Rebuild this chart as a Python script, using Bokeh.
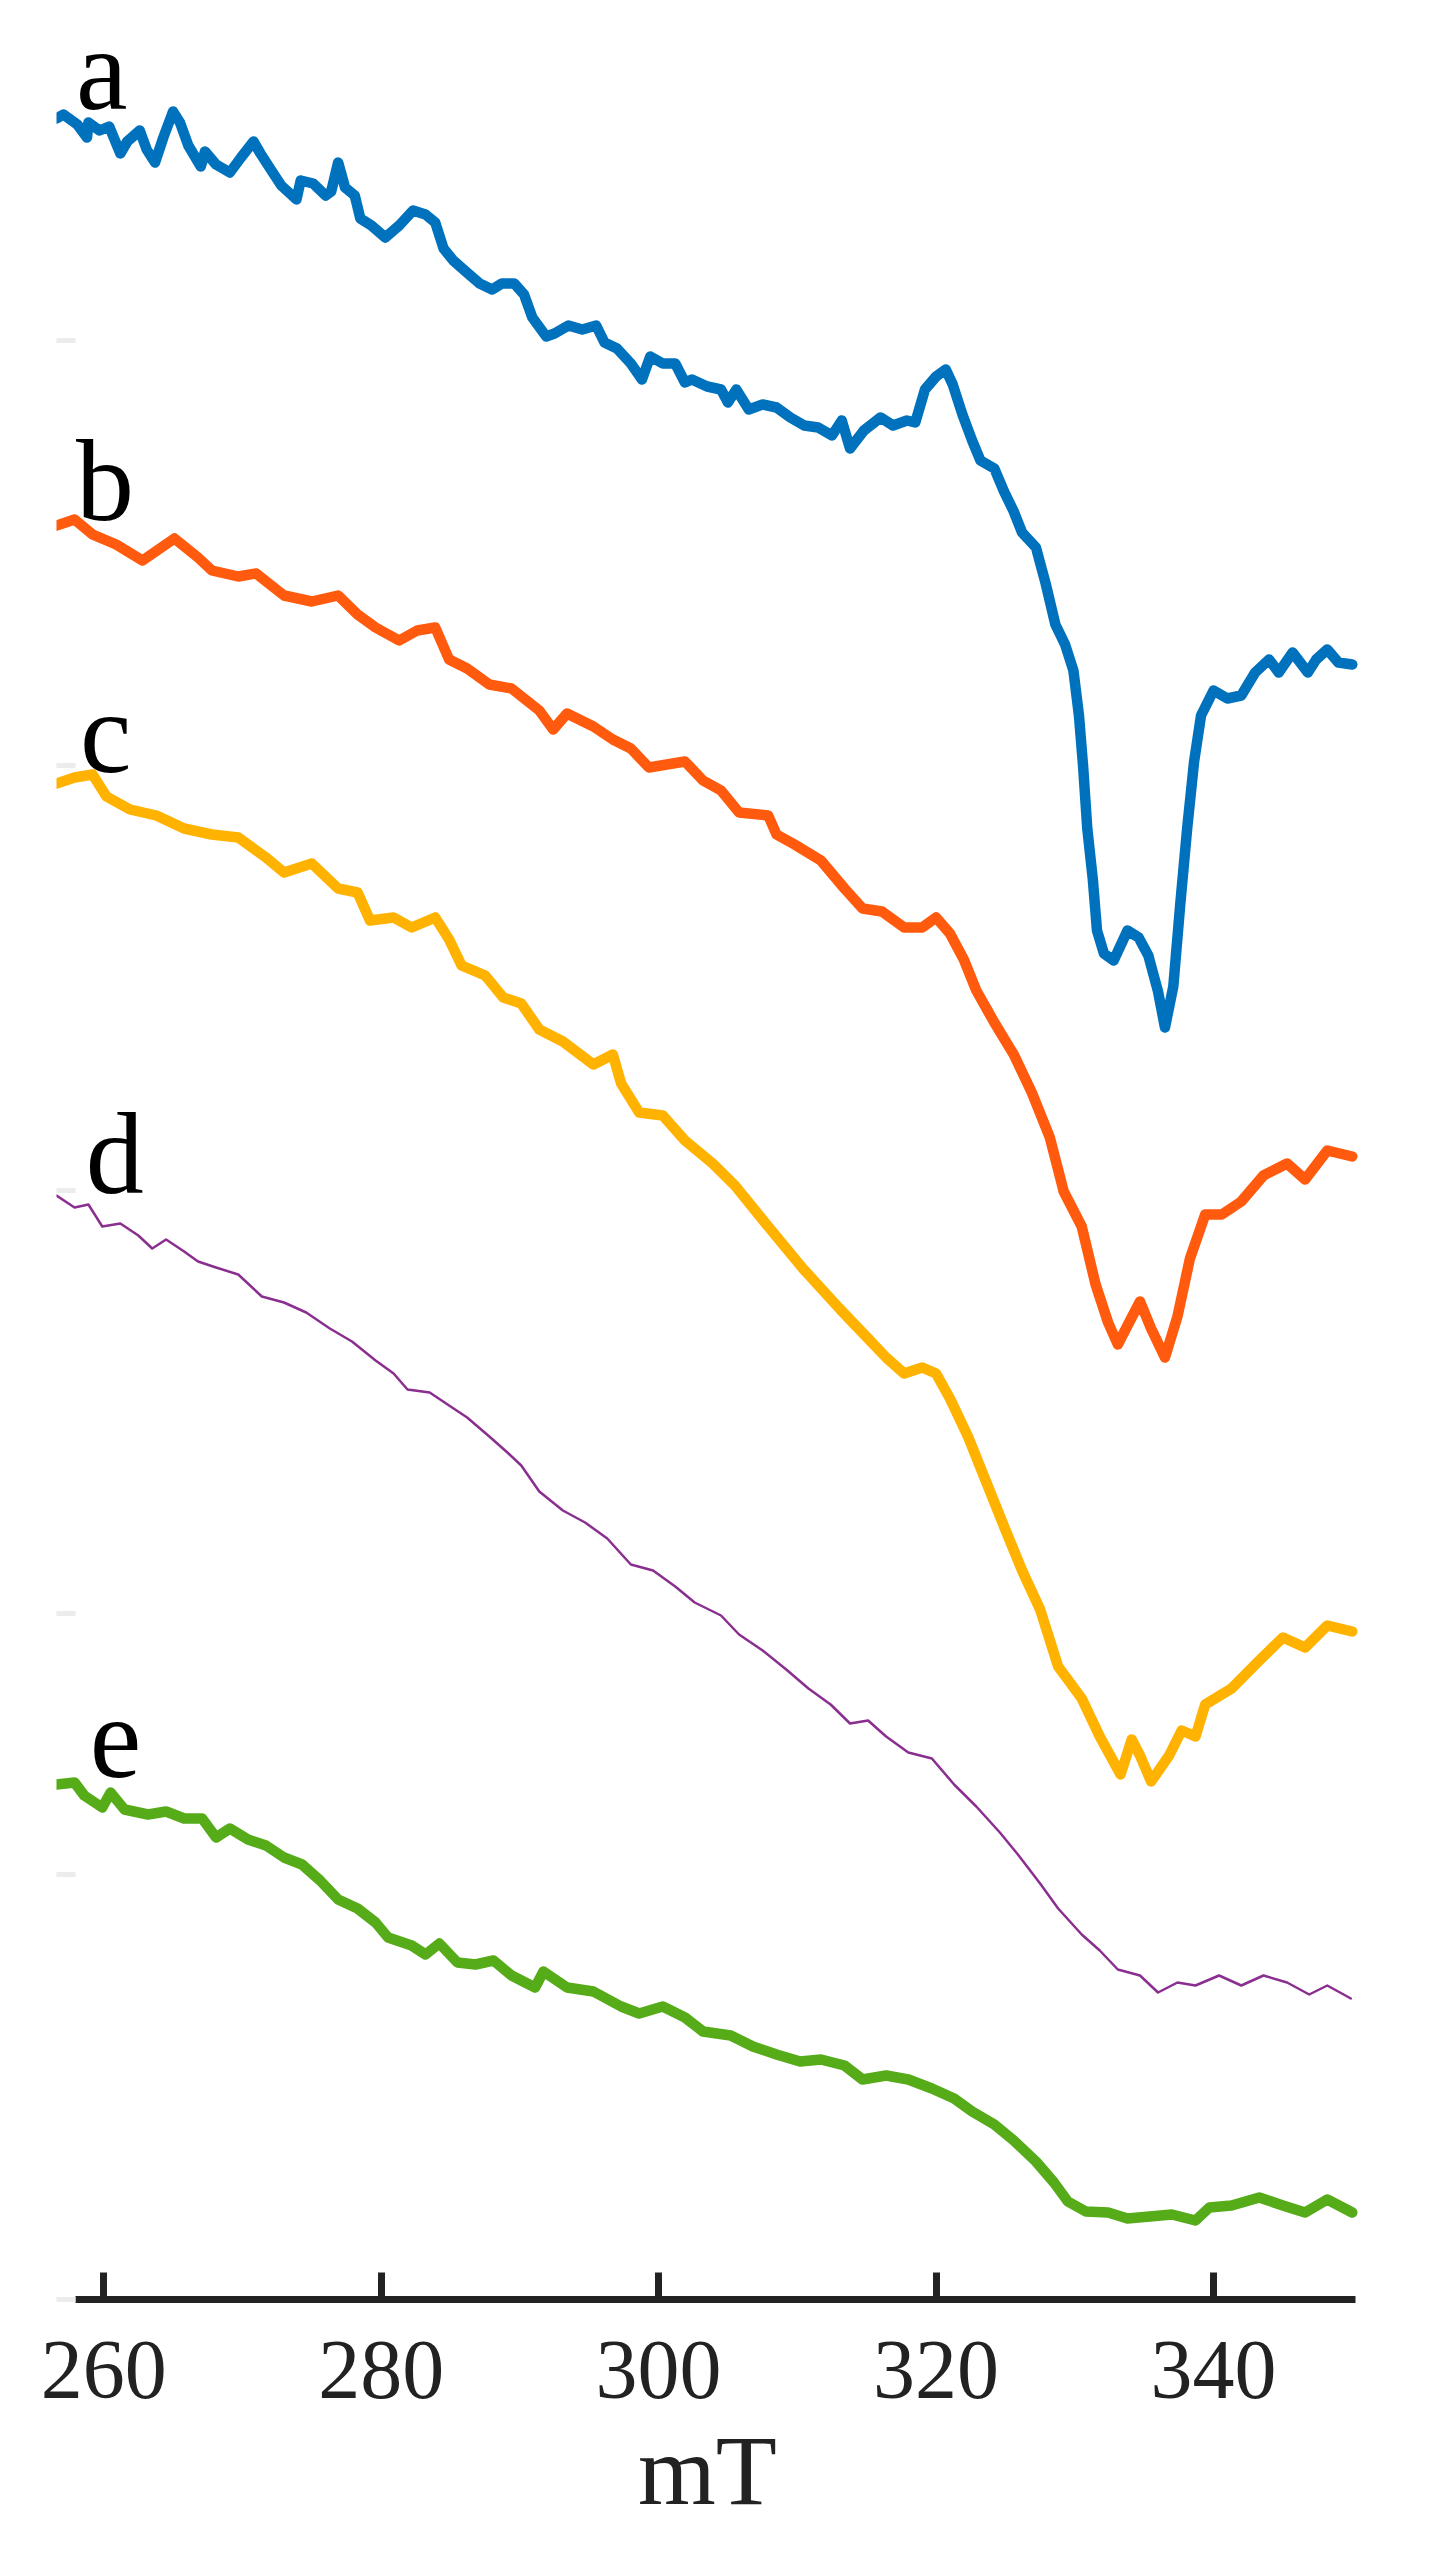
from bokeh.plotting import figure
from bokeh.models import Range1d, FixedTicker, LinearAxis
from bokeh.embed import file_html
from bokeh.resources import INLINE
from bokeh.core.properties import value

# ---------------- data (field in mT, intensity in a.u., spectra stacked) ----------------
a_x = [256.6, 257.1, 258.1, 258.8, 258.9, 259.7, 260.4, 261.2, 261.7, 262.6, 263.1, 263.7, 264.3, 265.0,
       265.5, 266.1, 267.0, 267.3, 268.1, 269.1, 269.9, 270.8, 271.3, 272.0, 272.8, 273.9, 274.2, 275.1,
       276.0, 276.4, 276.9, 277.4, 278.1, 278.5, 279.3, 280.3, 281.3, 282.3, 283.2, 283.9, 284.5, 285.2,
       286.1, 287.1, 288.0, 288.7, 289.6, 290.3, 290.9, 291.9, 292.5, 293.5, 294.5, 295.5, 296.1, 297.0,
       298.0, 298.8, 299.4, 300.3, 301.2, 301.9, 302.4, 303.5, 304.5, 305.0, 305.6, 306.5, 307.5, 308.5,
       309.5, 310.5, 311.5, 312.5, 313.2, 313.8, 314.8, 316.0, 316.9, 317.9, 318.5, 319.2, 320.0, 320.7,
       321.2, 321.9, 322.6, 323.2, 324.2, 324.9, 325.6, 326.2, 327.2, 327.9, 328.6, 329.3, 329.9, 330.3,
       330.6, 330.9, 331.3, 331.6, 332.1, 332.8, 333.8, 334.6, 335.3, 336.0, 336.5, 337.1, 337.6, 338.1,
       338.6, 339.1, 340.0, 341.0, 342.0, 343.0, 344.0, 344.7, 345.7, 346.8, 347.4, 348.2, 349.0, 350.0]
a_y = [2181, 2185, 2175, 2162, 2177, 2169, 2173, 2146, 2158, 2169, 2150, 2137, 2162, 2188,
       2177, 2154, 2133, 2148, 2135, 2127, 2142, 2158, 2146, 2131, 2114, 2100, 2119, 2116,
       2104, 2108, 2137, 2112, 2104, 2081, 2074, 2062, 2074, 2089, 2085, 2077, 2051, 2039,
       2028, 2016, 2010, 2016, 2016, 2005, 1982, 1963, 1966, 1974, 1970, 1974, 1957, 1951,
       1936, 1920, 1943, 1936, 1936, 1917, 1920, 1913, 1910, 1897, 1910, 1890, 1895, 1892,
       1882, 1874, 1872, 1864, 1879, 1851, 1869, 1882, 1874, 1879, 1877, 1910, 1923, 1930,
       1915, 1885, 1859, 1839, 1831, 1808, 1788, 1767, 1752, 1716, 1675, 1655, 1629, 1584,
       1533, 1471, 1420, 1369, 1346, 1339, 1369, 1362, 1344, 1308, 1272, 1313, 1395, 1471,
       1538, 1584, 1609, 1601, 1604, 1627, 1640, 1627, 1647, 1627, 1640, 1650, 1637, 1635]

b_x = [256.6, 257.9, 259.2, 260.9, 262.8, 265.1, 266.8, 267.8, 269.7, 271.0, 273.0, 275.0, 276.9,
       278.3, 279.6, 281.3, 282.6, 283.9, 284.9, 286.2, 287.8, 289.4, 291.4, 292.4, 293.4, 295.3,
       296.7, 298.0, 299.3, 301.9, 303.2, 304.5, 305.8, 307.9, 308.5, 309.8, 311.7, 313.4, 314.7,
       316.1, 317.7, 319.0, 320.0, 321.0, 322.0, 322.9, 324.2, 325.6, 326.9, 328.2, 329.2, 330.5,
       331.5, 332.4, 333.1, 334.1, 334.7, 335.5, 336.5, 337.4, 338.3, 339.4, 340.6, 342.0, 343.6,
       345.3, 346.6, 348.2, 350.0]
b_y = [1774, 1780, 1765, 1755, 1739, 1761, 1742, 1729, 1723, 1726, 1704, 1698, 1704,
       1685, 1672, 1659, 1669, 1672, 1640, 1631, 1615, 1611, 1589, 1570, 1586, 1573,
       1560, 1551, 1532, 1538, 1519, 1509, 1487, 1484, 1465, 1455, 1439, 1411, 1391,
       1388, 1372, 1372, 1382, 1366, 1340, 1309, 1277, 1245, 1207, 1162, 1108, 1073,
       1015, 977, 955, 982, 998, 971, 942, 983, 1041, 1085, 1085, 1098, 1124,
       1136, 1120, 1149, 1143]

c_x = [256.6, 257.9, 259.2, 260.2, 261.9, 263.8, 265.8, 267.8, 269.7, 271.7, 273.0, 275.0, 276.9,
       278.3, 279.2, 280.9, 282.2, 283.9, 284.9, 285.8, 287.5, 288.8, 290.1, 291.4, 293.1, 295.3,
       296.7, 297.3, 298.6, 300.3, 301.9, 303.9, 305.5, 307.9, 310.4, 313.1, 315.1, 316.4, 317.7,
       319.0, 320.0, 321.0, 322.3, 323.6, 324.9, 326.2, 327.5, 328.8, 330.5, 331.8, 333.3, 334.1,
       334.7, 335.5, 336.8, 337.7, 338.7, 339.4, 341.3, 343.3, 345.0, 346.6, 348.2, 350.0]
c_y = [1516, 1522, 1525, 1503, 1490, 1484, 1471, 1465, 1462, 1442, 1427, 1436, 1411,
       1407, 1379, 1382, 1372, 1382, 1360, 1334, 1324, 1302, 1296, 1270, 1258, 1235,
       1245, 1216, 1187, 1184, 1159, 1136, 1114, 1073, 1031, 990, 961, 942, 926,
       932, 926, 901, 863, 818, 773, 729, 690, 633, 601, 563, 525, 560,
       544, 518, 544, 569, 563, 595, 611, 639, 662, 652, 674, 668]

d_x = [256.6, 257.9, 258.9, 259.9, 261.2, 262.5, 263.5, 264.5, 265.8, 266.8, 268.1, 269.7, 271.4,
       273.0, 274.6, 276.3, 277.9, 279.6, 280.9, 281.9, 283.5, 284.9, 286.2, 287.8, 289.1, 290.1,
       291.4, 293.1, 294.7, 296.3, 298.0, 299.6, 301.2, 302.6, 304.5, 305.8, 307.5, 309.2, 310.8,
       312.4, 313.8, 315.1, 316.4, 318.0, 319.7, 321.3, 322.9, 324.6, 325.9, 327.5, 328.8, 330.5,
       331.8, 333.1, 334.7, 336.0, 337.4, 338.7, 340.4, 342.0, 343.6, 345.3, 346.9, 348.2, 349.9]
d_y = [1104, 1092, 1095, 1073, 1076, 1064, 1051, 1060, 1048, 1038, 1032, 1025, 1003,
       997, 987, 971, 958, 939, 926, 910, 907, 894, 882, 863, 847, 834,
       808, 789, 777, 761, 735, 729, 713, 697, 684, 665, 649, 630, 611,
       595, 576, 579, 563, 547, 541, 515, 493, 467, 445, 416, 391, 365,
       349, 330, 324, 307, 317, 314, 324, 314, 324, 317, 305, 314, 301]

e_x = [256.6, 257.9, 258.6, 259.9, 260.5, 261.5, 263.2, 264.5, 265.8, 267.1, 268.1, 269.1, 270.4,
       271.7, 273.0, 274.3, 275.6, 276.9, 278.3, 279.6, 280.5, 282.2, 283.2, 284.2, 285.5, 286.8,
       288.1, 289.4, 291.1, 291.7, 293.4, 295.3, 297.3, 298.6, 300.3, 301.9, 303.2, 305.2, 306.8,
       308.5, 310.2, 311.7, 313.4, 314.7, 316.4, 318.0, 319.7, 321.3, 322.6, 324.2, 325.6, 327.2,
       328.5, 329.5, 330.8, 332.4, 333.8, 335.4, 337.0, 338.7, 339.7, 341.3, 343.3, 345.0, 346.6,
       348.2, 350.0]
e_y = [515, 517, 504, 492, 507, 490, 485, 488, 481, 481, 462, 471, 460,
       454, 442, 435, 419, 400, 391, 377, 362, 354, 345, 356, 337, 335,
       339, 324, 312, 328, 312, 308, 293, 286, 293, 282, 268, 264, 253,
       245, 238, 240, 234, 220, 224, 220, 211, 201, 188, 175, 159, 138,
       117, 98, 88, 87, 81, 83, 85, 79, 92, 94, 102, 94, 87,
       100, 87]

series_names = ["a", "b", "c", "d", "e"]
series_colors = ["#0072BD", "#FF5A0D", "#FFB300", "#8A2E8F", "#56AB19"]
series_widths = [10.5, 10.5, 10.5, 2.5, 10.5]
label_x = [258.0, 258.0, 258.3, 258.7, 259.0]
label_y = [2230, 1819, 1567, 1146, 561]

x_ticks = [260, 280, 300, 320, 340]
y_marks = [1959, 1534, 1109, 686, 425, 0]

# ---------------- figure ----------------
p = figure(width=1413, height=2560, output_backend="svg", toolbar_location=None,
           x_range=Range1d(256.6, 350.45), y_range=Range1d(0, 2299),
           min_border_left=56, min_border_right=55, min_border_top=0, min_border_bottom=261,
           x_axis_location=None, y_axis_location=None)
p.outline_line_color = None
p.xgrid.visible = False
p.ygrid.visible = False
p.background_fill_color = "white"
p.border_fill_color = "white"

xs = [a_x, b_x, c_x, d_x, e_x]
ys = [a_y, b_y, c_y, d_y, e_y]
for xv, yv, col, lw in zip(xs, ys, series_colors, series_widths):
    p.line(xv, yv, line_color=col, line_width=lw, line_join="round", line_cap="round")

p.text(x=label_x, y=label_y, text=series_names, text_font=value("Liberation Serif"),
       text_font_size="116px", text_color="black", text_align="left", text_baseline="alphabetic")

# faint y ticks (no visible axis)
yax = LinearAxis(ticker=FixedTicker(ticks=y_marks))
yax.axis_line_color = None
yax.major_tick_in = 19
yax.major_tick_out = 0
yax.major_tick_line_color = "#ECECEC"
yax.major_tick_line_width = 5
yax.minor_tick_line_color = None
yax.major_label_overrides = {t: "" for t in y_marks}
yax.major_label_standoff = 0
p.add_layout(yax, "left")

xax = LinearAxis(ticker=FixedTicker(ticks=x_ticks), axis_label="mT")
xax.bounds = (258.0, 350.2)
xax.axis_line_color = "#222222"
xax.axis_line_width = 7
xax.major_tick_in = 27
xax.major_tick_out = 0
xax.major_tick_line_color = "#222222"
xax.major_tick_line_width = 7
xax.minor_tick_line_color = None
xax.major_label_text_font = "Liberation Serif"
xax.major_label_text_font_size = "84px"
xax.major_label_text_color = "#222222"
xax.major_label_standoff = 42
xax.axis_label_text_font = "Liberation Serif"
xax.axis_label_text_font_size = "100px"
xax.axis_label_text_font_style = "normal"
xax.axis_label_text_color = "#222222"
xax.axis_label_standoff = 14
p.add_layout(xax, "below")

open("out.html", "w").write(file_html(p, INLINE))
